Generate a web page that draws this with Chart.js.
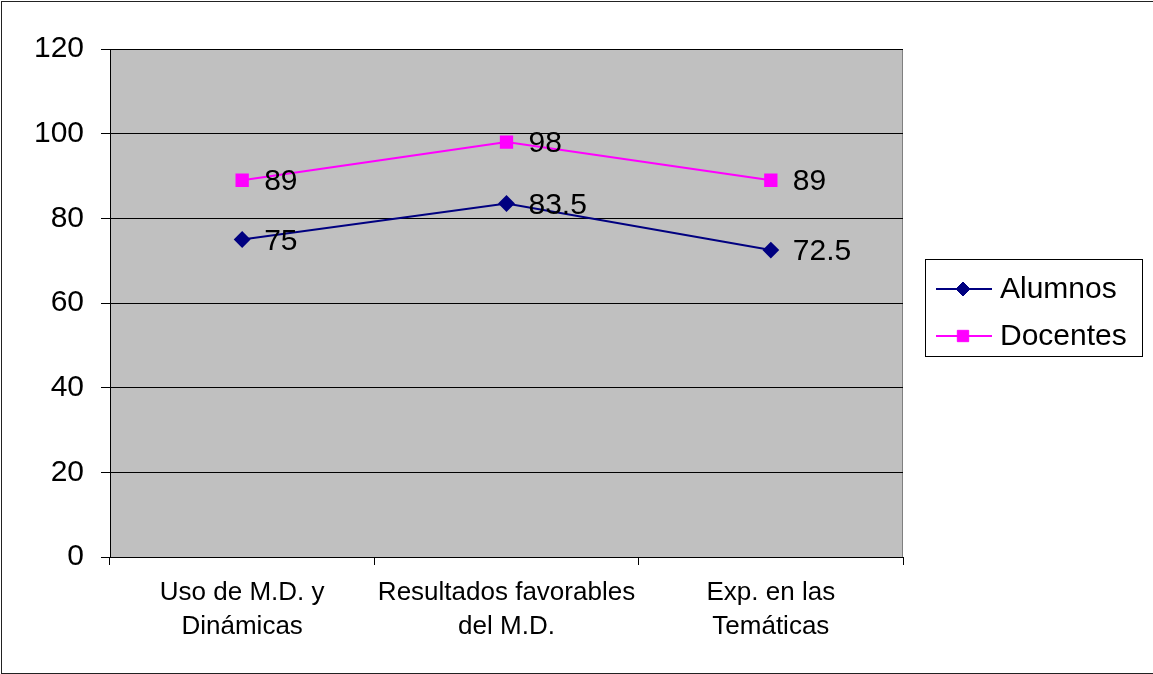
<!DOCTYPE html>
<html>
<head>
<meta charset="utf-8">
<script src="https://cdn.jsdelivr.net/npm/chart.js@4"></script>
<style>
  html, body { margin: 0; padding: 0; background: #fff; overflow: hidden; }
  #frame { position: absolute; left: 1px; top: 1px; width: 1200px; height: 671px; border: 1px solid #222; }
  #wrap { position: absolute; left: 0; top: 0; width: 1153px; height: 674px; }
</style>
</head>
<body>
<div id="frame"></div>
<div id="wrap"><canvas id="chart"></canvas></div>
<script>
const categories = [['Uso de M.D. y', 'Dinámicas'], ['Resultados favorables', 'del M.D.'], ['Exp. en las', 'Temáticas']]
const alumnos = [75, 83.5, 72.5]
const docentes = [89, 98, 89]
const yTicks = [0, 20, 40, 60, 80, 100, 120]

const FONT = "'Liberation Sans', Arial, sans-serif"

// gray plot area with thin border, like the old spreadsheet chart
const plotBg = {
  id: 'plotBg',
  beforeDraw(chart) {
    const {ctx, chartArea: a} = chart
    ctx.save()
    ctx.fillStyle = '#c0c0c0'
    ctx.fillRect(a.left, a.top, a.right - a.left, a.bottom - a.top)
    ctx.strokeStyle = '#808080'
    ctx.lineWidth = 1
    ctx.strokeRect(a.left + 0.5, a.top + 0.5, a.right - a.left - 1, a.bottom - a.top)
    ctx.restore()
  }
}

// value next to every point
const valueLabels = {
  id: 'valueLabels',
  afterDatasetsDraw(chart) {
    const {ctx} = chart
    ctx.save()
    ctx.font = '30px ' + FONT
    ctx.fillStyle = '#000'
    ctx.textAlign = 'left'
    ctx.textBaseline = 'middle'
    chart.data.datasets.forEach((ds, i) => {
      chart.getDatasetMeta(i).data.forEach((pt, j) => {
        ctx.fillText(String(ds.data[j]), pt.x + 22, pt.y + 2)
      })
    })
    ctx.restore()
  }
}

// boxed legend at the right, line + marker + label
const boxLegend = {
  id: 'boxLegend',
  afterDraw(chart) {
    const {ctx, chartArea: a} = chart
    const left = a.right + 22
    const top = 259
    const w = 217
    const h = 97
    ctx.save()
    ctx.fillStyle = '#fff'
    ctx.fillRect(left, top, w, h)
    ctx.strokeStyle = '#000'
    ctx.lineWidth = 1
    ctx.strokeRect(left + 0.5, top + 0.5, w, h)
    ctx.font = '30px ' + FONT
    ctx.textBaseline = 'middle'
    ctx.textAlign = 'left'
    chart.data.datasets.forEach((ds, i) => {
      const y = top + 30 + i * 47
      ctx.strokeStyle = ds.borderColor
      ctx.lineWidth = 2
      ctx.beginPath()
      ctx.moveTo(left + 11, y)
      ctx.lineTo(left + 67, y)
      ctx.stroke()
      ctx.fillStyle = ds.pointBackgroundColor
      ctx.strokeStyle = ds.pointBorderColor
      ctx.lineWidth = 1
      Chart.helpers.drawPoint(ctx, {pointStyle: ds.pointStyle, radius: ds.pointRadius, rotation: 0, borderWidth: 1}, left + 38, y)
      ctx.fillStyle = '#000'
      ctx.fillText(ds.label, left + 75, y + 1)
    })
    ctx.restore()
  }
}

new Chart(document.getElementById('chart'), {
  type: 'line',
  data: {
    labels: categories,
    datasets: [{
      label: 'Alumnos',
      data: alumnos,
      borderColor: '#000080',
      backgroundColor: '#000080',
      pointBackgroundColor: '#000080',
      pointBorderColor: '#000080',
      borderWidth: 2,
      pointStyle: 'rectRot',
      pointRadius: 7,
      tension: 0,
    }, {
      label: 'Docentes',
      data: docentes,
      borderColor: '#ff00ff',
      backgroundColor: '#ff00ff',
      pointBackgroundColor: '#ff00ff',
      pointBorderColor: '#ff00ff',
      borderWidth: 2,
      pointStyle: 'rect',
      pointRadius: 8,
      tension: 0,
    }],
  },
  options: {
    responsive: true,
    maintainAspectRatio: false,
    animation: false,
    layout: {padding: {top: 49, right: 250, left: 0, bottom: 0}},
    plugins: {legend: {display: false}, tooltip: {enabled: false}},
    scales: {
      x: {
        offset: true,
        grid: {offset: true, drawOnChartArea: false, color: '#000', tickLength: 8, tickColor: '#000'},
        border: {color: '#000', width: 1},
        ticks: {color: '#000', font: {family: FONT, size: 26, lineHeight: 1.3}, padding: 11, maxRotation: 0, autoSkip: false},
        afterFit(scale) { scale.height = 117 },
      },
      y: {
        min: 0,
        max: 120,
        grid: {color: '#000', tickLength: 9, tickColor: '#000'},
        border: {color: '#000', width: 1},
        afterBuildTicks(scale) { scale.ticks = yTicks.map((v) => ({value: v})) },
        ticks: {color: '#000', font: {family: FONT, size: 30}, padding: 17},
        afterFit(scale) { scale.width = 110 },
      },
    },
  },
  plugins: [plotBg, valueLabels, boxLegend],
})
</script>
</body>
</html>
